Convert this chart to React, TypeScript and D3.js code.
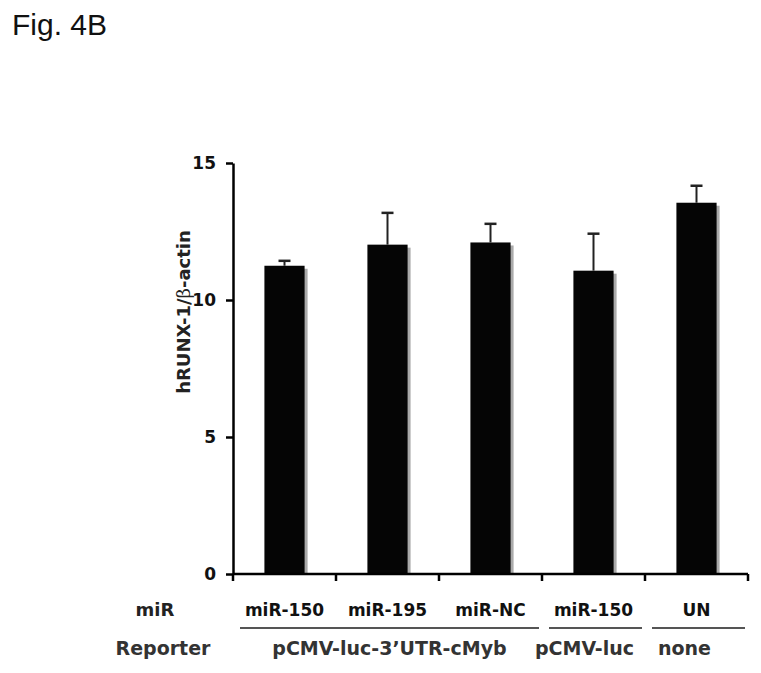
import React, { useEffect, useRef } from 'react';
import * as d3 from 'd3';

const categories = ['miR-150', 'miR-195', 'miR-NC', 'miR-150', 'UN'];
const values = [11.25, 12.02, 12.1, 11.07, 13.55];
const errors = [0.18, 1.16, 0.68, 1.35, 0.62];
const reporters = ['pCMV-luc-3\u2019UTR-cMyb', 'pCMV-luc', 'none'];
const reporterSpans = [[0, 3], [3, 4], [4, 5]];
const yTicks = [0, 5, 10, 15];

const App = () => {
  const svgRef = useRef(null);

  useEffect(() => {
    const width = 761;
    const height = 673;
    const margin = { top: 163, right: 13, bottom: 99, left: 233 };
    const innerW = width - margin.left - margin.right;
    const innerH = height - margin.top - margin.bottom;
    const font = 'DejaVu Sans, Verdana, sans-serif';

    d3.select(svgRef.current).selectAll('*').remove();

    const root = d3
      .select(svgRef.current)
      .attr('width', width)
      .attr('height', height)
      .style('position', 'absolute')
      .style('left', '0px')
      .style('top', '0px');

    root.append('rect').attr('width', width).attr('height', height).attr('fill', '#fff');

    root
      .append('text')
      .attr('x', 12)
      .attr('y', 35)
      .style('font-family', 'Liberation Sans, Arial, sans-serif')
      .style('font-size', '30px')
      .attr('fill', '#111')
      .text('Fig. 4B');

    const svg = root.append('g').attr('transform', `translate(${margin.left}, ${margin.top})`);

    // scales
    const idx = categories.map((_, i) => i);
    const xScale = d3.scaleBand().domain(idx).range([0, innerW]).paddingInner(0.61).paddingOuter(0.305);
    const yScale = d3.scaleLinear().domain([0, 15]).range([innerH, 0]);
    const step = innerW / categories.length;

    // bars with drop shadow
    const bars = svg.selectAll('.bar').data(values).enter().append('g');
    bars
      .append('rect')
      .attr('x', (_, i) => xScale(i) + 3)
      .attr('y', d => yScale(d) + 3)
      .attr('width', xScale.bandwidth())
      .attr('height', d => innerH - yScale(d) - 3)
      .attr('fill', '#aaaaaa');
    bars
      .append('rect')
      .attr('x', (_, i) => xScale(i))
      .attr('y', d => yScale(d))
      .attr('width', xScale.bandwidth())
      .attr('height', d => innerH - yScale(d))
      .attr('fill', '#050505');

    // error bars (upper only)
    const err = svg.selectAll('.err').data(values).enter().append('g');
    err
      .append('line')
      .attr('x1', (_, i) => xScale(i) + xScale.bandwidth() / 2)
      .attr('x2', (_, i) => xScale(i) + xScale.bandwidth() / 2)
      .attr('y1', d => yScale(d))
      .attr('y2', (d, i) => yScale(d + errors[i]))
      .attr('stroke', '#222')
      .attr('stroke-width', 2);
    err
      .append('line')
      .attr('x1', (_, i) => xScale(i) + xScale.bandwidth() / 2 - 6)
      .attr('x2', (_, i) => xScale(i) + xScale.bandwidth() / 2 + 6)
      .attr('y1', (d, i) => yScale(d + errors[i]))
      .attr('y2', (d, i) => yScale(d + errors[i]))
      .attr('stroke', '#222')
      .attr('stroke-width', 2.5);

    // y axis
    const yAxis = svg
      .append('g')
      .call(d3.axisLeft(yScale).tickValues(yTicks).tickSize(7).tickPadding(10).tickSizeOuter(0));
    yAxis.select('.domain').attr('stroke', '#000').attr('stroke-width', 2.5);
    yAxis.selectAll('.tick line').attr('stroke', '#000').attr('stroke-width', 2.5);
    yAxis
      .selectAll('.tick text')
      .style('font-family', font)
      .style('font-size', '17px')
      .style('font-weight', 'bold')
      .attr('fill', '#111');

    // x axis with ticks at band boundaries
    const xAxis = svg.append('g').attr('transform', `translate(0, ${innerH})`);
    xAxis
      .append('line')
      .attr('x1', 0)
      .attr('x2', innerW)
      .attr('stroke', '#000')
      .attr('stroke-width', 2.5);
    xAxis
      .selectAll('.xt')
      .data(d3.range(categories.length + 1))
      .enter()
      .append('line')
      .attr('x1', i => i * step)
      .attr('x2', i => i * step)
      .attr('y1', 0)
      .attr('y2', 7)
      .attr('stroke', '#000')
      .attr('stroke-width', 2.5);

    // category labels
    svg
      .selectAll('.cat')
      .data(categories)
      .enter()
      .append('text')
      .attr('x', (_, i) => xScale(i) + xScale.bandwidth() / 2)
      .attr('y', innerH + 42)
      .attr('text-anchor', 'middle')
      .style('font-family', font)
      .style('font-size', '17px')
      .style('font-weight', 'bold')
      .attr('fill', '#111')
      .text(d => d);

    // reporter group lines and labels
    svg
      .selectAll('.grp')
      .data(reporterSpans)
      .enter()
      .append('line')
      .attr('x1', d => d[0] * step + 7)
      .attr('x2', d => d[1] * step - 3)
      .attr('y1', innerH + 54)
      .attr('y2', innerH + 54)
      .attr('stroke', '#555')
      .attr('stroke-width', 2);
    svg
      .selectAll('.rep')
      .data(reporters)
      .enter()
      .append('text')
      .attr('x', (_, i) => ((reporterSpans[i][0] + reporterSpans[i][1]) / 2) * step + (i === 2 ? -12 : i === 1 ? -9 : 2))
      .attr('y', innerH + 81)
      .attr('text-anchor', 'middle')
      .style('font-family', font)
      .style('font-size', '19px')
      .style('font-weight', 'bold')
      .attr('fill', '#333')
      .text(d => d);

    // row labels
    svg
      .append('text')
      .attr('x', -78)
      .attr('y', innerH + 42)
      .attr('text-anchor', 'middle')
      .style('font-family', font)
      .style('font-size', '18px')
      .style('font-weight', 'bold')
      .attr('fill', '#222')
      .text('miR');
    svg
      .append('text')
      .attr('x', -70)
      .attr('y', innerH + 81)
      .attr('text-anchor', 'middle')
      .style('font-family', font)
      .style('font-size', '19px')
      .style('font-weight', 'bold')
      .attr('fill', '#333')
      .text('Reporter');

    // y label
    const yLabel = svg
      .append('text')
      .attr('transform', 'rotate(-90)')
      .attr('x', -(312 - margin.top))
      .attr('y', -43)
      .attr('text-anchor', 'middle')
      .style('font-family', font)
      .style('font-size', '18px')
      .style('font-weight', 'bold')
      .attr('fill', '#222');
    yLabel.append('tspan').text('hRUNX-1/');
    yLabel.append('tspan').style('font-family', 'DejaVu Serif, serif').style('font-weight', 'normal').text('\u03b2');
    yLabel.append('tspan').text('-actin');
  }, []);

  return <svg ref={svgRef}></svg>;
};

export default App;
